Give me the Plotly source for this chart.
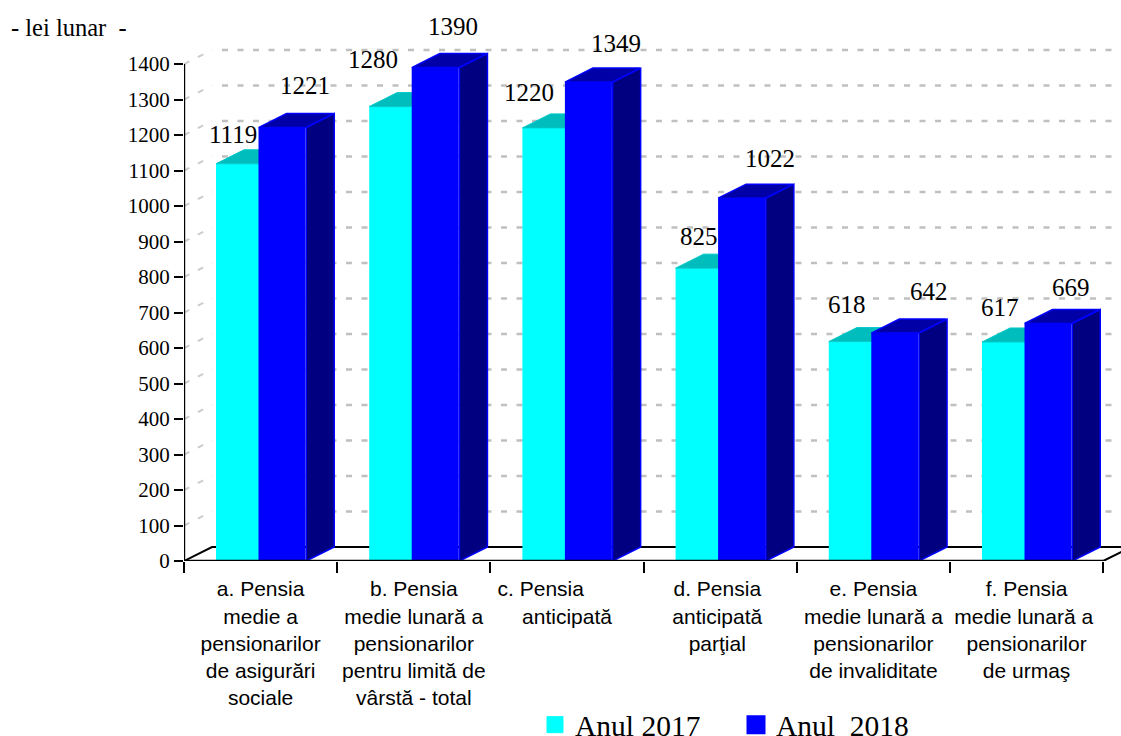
import plotly.graph_objects as go

NB = "\u00a0"
categories = [
    "a. Pensia<br>medie a<br>pensionarilor<br>de asigurări<br>sociale",
    "b. Pensia<br>medie lunară a<br>pensionarilor<br>pentru limită de<br>vârstă - total",
    "c. Pensia" + NB * 9 + "<br>anticipată",
    "d. Pensia" + NB + "<br>anticipată" + NB + "<br>parţial" + NB,
    "e. Pensia<br>medie lunară a<br>pensionarilor<br>de invaliditate",
    "f. Pensia<br>medie lunară a" + NB + "<br>pensionarilor<br>de urmaş",
]
values_2017 = [1119, 1280, 1220, 825, 618, 617]
values_2018 = [1221, 1390, 1349, 1022, 642, 669]
y_ticks = list(range(0, 1500, 100))

# hand-placed label offsets in the reference (pixels from the bar's top centre)
label_dx_2017 = [-6.5, -20, -17, 0, -5, -6]
label_dy_2017 = [29, 47, 35, 32, 37, 34]
label_dx_2018 = [23, 18, 28, 28, 34, 23]
label_dy_2018 = [42, 41, 39, 40, 42, 36]

# geometry in axis units
CAT_PX = 153.2
Y_PX = 0.355
PLOT_L, PLOT_T, PLOT_R_PX, PLOT_B_PX = 184, 10, 1121, 561
XMAX = (PLOT_R_PX - PLOT_L) / CAT_PX
YMAX = (PLOT_B_PX - PLOT_T) / Y_PX
DX = 28 / CAT_PX
DY = 14 / Y_PX
BAR_W = 47 / CAT_PX
CENTER_2017 = 55.5 / CAT_PX
CENTER_2018 = 98 / CAT_PX
N = len(values_2017)

SERIF = "Liberation Serif"
SANS = "Liberation Sans"


def top_face(c, v):
    l, r = c - BAR_W / 2, c + BAR_W / 2
    return [l, l + DX, r + DX, r, l, None], [v, v + DY, v + DY, v, v, None]


def side_face(c, v):
    r = c + BAR_W / 2 + 0.75 / CAT_PX
    return [r, r + DX, r + DX, r, r, None], [0, DY, v + DY, v, 0, None]


def collect(fn, centers, vals):
    xs, ys = [], []
    for c, v in zip(centers, vals):
        a, b = fn(c, v)
        xs += a
        ys += b
    return xs, ys


fig = go.Figure()

# back wall grid: diagonal returns on the side wall and dashes along the back wall
dx_, dy_, hx, hy = [], [], [], []
for t in y_ticks[1:]:
    dx_ += [0, DX, None]
    dy_ += [t, t + DY, None]
    hx += [DX + 10 / CAT_PX, XMAX + DX, None]
    hy += [t + DY, t + DY, None]
fig.add_trace(go.Scatter(x=dx_, y=dy_, mode="lines", showlegend=False, hoverinfo="skip", cliponaxis=False,
                         line=dict(color="#cccccc", width=2, dash="6px,9.5px")))
fig.add_trace(go.Scatter(x=hx, y=hy, mode="lines", showlegend=False, hoverinfo="skip",
                         line=dict(color="#c0c0c0", width=2.6, dash="6px,9.5px")))
# floor back edge
fig.add_trace(go.Scatter(x=[0, DX, XMAX + DX, None, N, N + DX],
                         y=[0, DY, DY, None, 0, DY],
                         mode="lines", showlegend=False, hoverinfo="skip", cliponaxis=False,
                         line=dict(color="black", width=2)))

# 2017 series
c17 = [i + CENTER_2017 for i in range(N)]
fig.add_trace(go.Bar(x=c17, y=values_2017, width=BAR_W, marker=dict(color="#00ffff", line_width=0),
                     xaxis="x2", yaxis="y2", showlegend=False))
tx, ty = collect(top_face, c17, values_2017)
fig.add_trace(go.Scatter(x=tx, y=ty, mode="lines", fill="toself", fillcolor="#00bdbd",
                         line=dict(color="#00c8c8", width=1), xaxis="x2", yaxis="y2",
                         showlegend=False, hoverinfo="skip"))

# 2018 series
c18 = [i + CENTER_2018 for i in range(N)]
fig.add_trace(go.Bar(x=c18, y=values_2018, width=BAR_W, marker=dict(color="#0000ff", line_width=0),
                     xaxis="x3", yaxis="y3", showlegend=False))
sx, sy = collect(side_face, c18, values_2018)
fig.add_trace(go.Scatter(x=sx, y=sy, mode="lines", fill="toself", fillcolor="#000080",
                         line=dict(color="#0000ff", width=1.5), xaxis="x3", yaxis="y3",
                         showlegend=False, hoverinfo="skip"))
tx, ty = collect(top_face, c18, values_2018)
fig.add_trace(go.Scatter(x=tx, y=ty, mode="lines", fill="toself", fillcolor="#0000a6",
                         line=dict(color="#0000ff", width=1.5), xaxis="x3", yaxis="y3",
                         showlegend=False, hoverinfo="skip"))

# axis lines above the bars
fig.add_trace(go.Scatter(x=[0, 0, None, 0, N], y=[0, 1400, None, 0, 0], mode="lines",
                         line=dict(color="black", width=2.4), xaxis="x3", yaxis="y3",
                         cliponaxis=False, showlegend=False, hoverinfo="skip"))

# legend entries
fig.add_trace(go.Scatter(x=[None], y=[None], mode="markers", name="Anul 2017",
                         marker=dict(symbol="square", size=16, color="#00ffff",
                                     line=dict(color="#00ffff", width=1))))
fig.add_trace(go.Scatter(x=[None], y=[None], mode="markers", name="Anul" + NB + NB + "2018",
                         marker=dict(symbol="square", size=16, color="#0000ff",
                                     line=dict(color="#0000ff", width=3))))

# value labels
annotations = []
for i in range(N):
    annotations.append(dict(x=c17[i], y=values_2017[i], text=str(values_2017[i]), showarrow=False,
                            xref="x3", yref="y3", xshift=label_dx_2017[i], yshift=label_dy_2017[i],
                            font=dict(family=SERIF, size=25, color="black")))
    annotations.append(dict(x=c18[i], y=values_2018[i], text=str(values_2018[i]), showarrow=False,
                            xref="x3", yref="y3", xshift=label_dx_2018[i], yshift=label_dy_2018[i],
                            font=dict(family=SERIF, size=25, color="black")))
annotations.append(dict(xref="paper", yref="paper", x=(9 - PLOT_L) / (PLOT_R_PX - PLOT_L),
                        y=(PLOT_B_PX - 27) / (PLOT_B_PX - PLOT_T), xanchor="left", yanchor="middle",
                        text="- lei lunar" + NB + NB + "-", showarrow=False,
                        font=dict(family=SERIF, size=24.5, color="black")))

hidden = dict(visible=False, fixedrange=True)
fig.update_layout(
    width=1121, height=736,
    margin=dict(l=PLOT_L, r=0, t=PLOT_T, b=736 - PLOT_B_PX, pad=0, autoexpand=False),
    paper_bgcolor="white", plot_bgcolor="white",
    barmode="overlay",
    annotations=annotations,
    showlegend=True,
    legend=dict(orientation="h", x=(535 - PLOT_L) / (PLOT_R_PX - PLOT_L), xanchor="left",
                y=(PLOT_B_PX - 699) / (PLOT_B_PX - PLOT_T), yanchor="top",
                font=dict(family=SERIF, size=29.5, color="black"),
                entrywidth=156, entrywidthmode="pixels", bgcolor="rgba(0,0,0,0)",
                itemclick=False, itemdoubleclick=False),
    xaxis=dict(range=[0, XMAX], tickmode="array", tickvals=[i + 0.5 for i in range(N)],
               ticktext=categories, ticks="outside", ticklen=9, tickwidth=2,
               tickcolor="rgba(0,0,0,0)", tickangle=0, showgrid=False, zeroline=False, showline=False,
               tickfont=dict(family=SANS, size=21, color="black"),
               minor=dict(tickmode="array", tickvals=list(range(N + 1)), ticks="outside",
                          ticklen=11, tickwidth=2, tickcolor="black", showgrid=False)),
    yaxis=dict(range=[0, YMAX], tickmode="array", tickvals=y_ticks, ticks="outside", ticklen=9,
               tickwidth=2.4, tickcolor="black", showgrid=False, zeroline=False, showline=False,
               tickfont=dict(family=SERIF, size=21, color="black")),
    xaxis2=dict(range=[0, XMAX], overlaying="x", **hidden),
    yaxis2=dict(range=[0, YMAX], overlaying="y", **hidden),
    xaxis3=dict(range=[0, XMAX], overlaying="x", **hidden),
    yaxis3=dict(range=[0, YMAX], overlaying="y", **hidden),
)

fig.write_html("out.html", config=dict(displayModeBar=False),
               post_script="document.body.style.margin='0';document.body.style.overflow='hidden';")
